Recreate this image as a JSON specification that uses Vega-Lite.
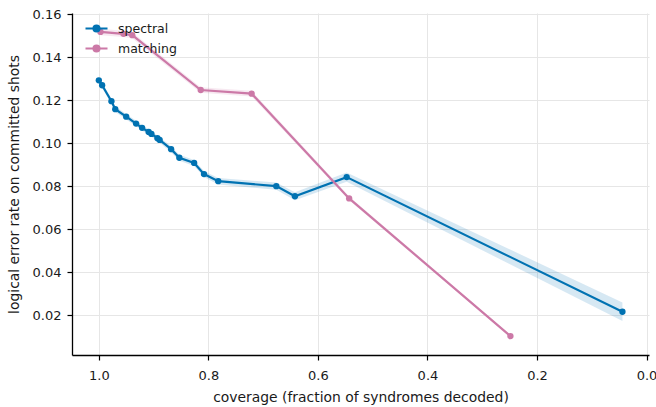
{
  "$schema": "https://vega.github.io/schema/vega-lite/v6.json",
  "autosize": {"type": "none"},
  "width": 577,
  "height": 342,
  "padding": {"left": 72, "top": 13, "right": 7, "bottom": 52},
  "background": "white",
  "config": {
    "view": {"stroke": null},
    "font": "DejaVu Sans",
    "axis": {
      "domainColor": "#000000",
      "domainWidth": 1.3,
      "tickColor": "#000000",
      "tickWidth": 1.2,
      "tickSize": 5,
      "labelFont": "DejaVu Sans",
      "labelFontSize": 13,
      "labelColor": "#1a1a1a",
      "titleFont": "DejaVu Sans",
      "titleFontSize": 13.9,
      "titleFontWeight": "normal",
      "titleColor": "#1a1a1a",
      "gridColor": "#e6e6e6",
      "gridWidth": 1
    }
  },
  "data": {
    "values": [
      {"method": "spectral", "coverage": 1.0, "ler": 0.1293, "lo": 0.1280, "hi": 0.1306},
      {"method": "spectral", "coverage": 0.994, "ler": 0.1270, "lo": 0.1257, "hi": 0.1283},
      {"method": "spectral", "coverage": 0.977, "ler": 0.1196, "lo": 0.1183, "hi": 0.1209},
      {"method": "spectral", "coverage": 0.970, "ler": 0.1159, "lo": 0.1146, "hi": 0.1172},
      {"method": "spectral", "coverage": 0.950, "ler": 0.1124, "lo": 0.1111, "hi": 0.1137},
      {"method": "spectral", "coverage": 0.932, "ler": 0.1092, "lo": 0.1079, "hi": 0.1105},
      {"method": "spectral", "coverage": 0.921, "ler": 0.1072, "lo": 0.1059, "hi": 0.1085},
      {"method": "spectral", "coverage": 0.909, "ler": 0.1053, "lo": 0.1040, "hi": 0.1066},
      {"method": "spectral", "coverage": 0.904, "ler": 0.1044, "lo": 0.1031, "hi": 0.1057},
      {"method": "spectral", "coverage": 0.893, "ler": 0.1024, "lo": 0.1011, "hi": 0.1037},
      {"method": "spectral", "coverage": 0.889, "ler": 0.1016, "lo": 0.1003, "hi": 0.1029},
      {"method": "spectral", "coverage": 0.868, "ler": 0.0973, "lo": 0.0959, "hi": 0.0987},
      {"method": "spectral", "coverage": 0.853, "ler": 0.0933, "lo": 0.0919, "hi": 0.0947},
      {"method": "spectral", "coverage": 0.826, "ler": 0.0909, "lo": 0.0895, "hi": 0.0923},
      {"method": "spectral", "coverage": 0.808, "ler": 0.0857, "lo": 0.0843, "hi": 0.0871},
      {"method": "spectral", "coverage": 0.782, "ler": 0.0824, "lo": 0.0809, "hi": 0.0839},
      {"method": "spectral", "coverage": 0.676, "ler": 0.0801, "lo": 0.0784, "hi": 0.0818},
      {"method": "spectral", "coverage": 0.642, "ler": 0.0754, "lo": 0.0735, "hi": 0.0773},
      {"method": "spectral", "coverage": 0.5475, "ler": 0.0843, "lo": 0.0821, "hi": 0.0865},
      {"method": "spectral", "coverage": 0.044, "ler": 0.0217, "lo": 0.0174, "hi": 0.0260},
      {"method": "matching", "coverage": 0.997, "ler": 0.1518, "lo": 0.1503, "hi": 0.1533},
      {"method": "matching", "coverage": 0.955, "ler": 0.1509, "lo": 0.1495, "hi": 0.1523},
      {"method": "matching", "coverage": 0.939, "ler": 0.1503, "lo": 0.1489, "hi": 0.1517},
      {"method": "matching", "coverage": 0.814, "ler": 0.1248, "lo": 0.1235, "hi": 0.1261},
      {"method": "matching", "coverage": 0.721, "ler": 0.1231, "lo": 0.1218, "hi": 0.1244},
      {"method": "matching", "coverage": 0.543, "ler": 0.0744, "lo": 0.0735, "hi": 0.0753},
      {"method": "matching", "coverage": 0.2485, "ler": 0.0104, "lo": 0.0099, "hi": 0.0109}
    ]
  },
  "encoding": {
    "x": {
      "field": "coverage",
      "type": "quantitative",
      "scale": {"domain": [1.049, -0.0045], "nice": false, "zero": false},
      "axis": {
        "title": "coverage (fraction of syndromes decoded)",
        "values": [1.0, 0.8, 0.6, 0.4, 0.2, 0.0],
        "format": ".1f",
        "labelPadding": 9,
        "titlePadding": 8
      }
    },
    "color": {
      "field": "method",
      "type": "nominal",
      "scale": {"domain": ["spectral", "matching"], "range": ["#0072B2", "#CC79A7"]},
      "legend": {
        "title": null,
        "orient": "none",
        "legendX": 12,
        "legendY": 3,
        "padding": 0,
        "rowPadding": 0,
        "labelFontSize": 12.5,
        "labelFont": "DejaVu Sans",
        "labelColor": "#1a1a1a",
        "labelOffset": 9,
        "symbolType": "M-1,0H1M-0.27,0A0.27,0.27,0,1,1,0.27,0A0.27,0.27,0,1,1,-0.27,0Z",
        "symbolSize": 484,
        "symbolStrokeWidth": 2.2,
        "symbolOpacity": 1
      }
    }
  },
  "layer": [
    {
      "mark": {"type": "area", "opacity": 0.16},
      "encoding": {
        "y": {"field": "lo", "type": "quantitative"},
        "y2": {"field": "hi"}
      }
    },
    {
      "mark": {"type": "line", "strokeWidth": 2.2, "point": {"size": 40, "filled": true, "opacity": 1}},
      "encoding": {
        "y": {
          "field": "ler",
          "type": "quantitative",
          "scale": {"domain": [0.0016, 0.1606], "nice": false, "zero": false},
          "axis": {
            "title": "logical error rate on committed shots",
            "values": [0.02, 0.04, 0.06, 0.08, 0.10, 0.12, 0.14, 0.16],
            "format": ".2f",
            "labelPadding": 6,
            "titlePadding": 11
          }
        }
      }
    }
  ]
}
